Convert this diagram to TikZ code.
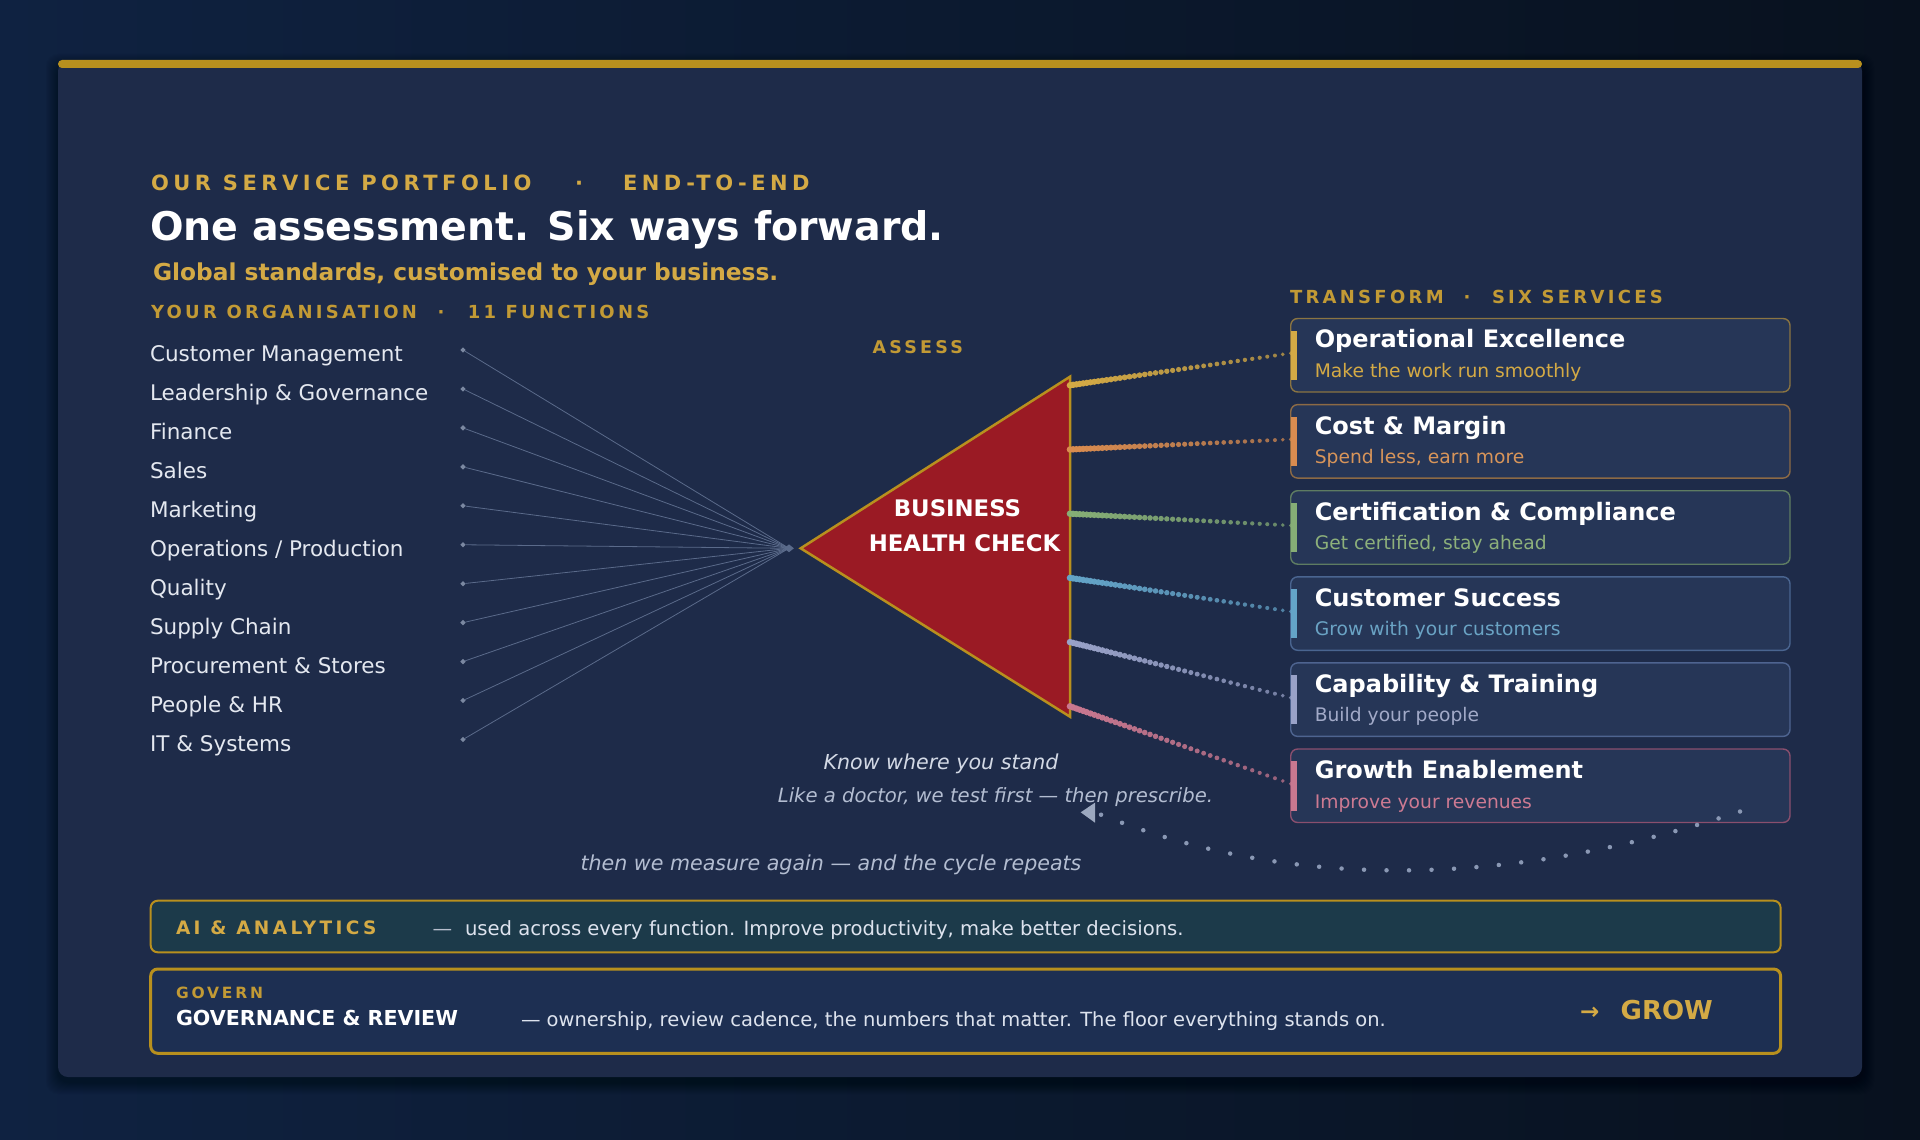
\documentclass[tikz,border=0pt]{standalone}
\usepackage{fontspec}
\setmainfont{DejaVu Sans}[BoldFont={DejaVu Sans Bold},ItalicFont={DejaVu Sans Oblique}]
\newfontfamily\lsA{DejaVu Sans Bold}[LetterSpace=21.5]
\newfontfamily\lsB{DejaVu Sans Bold}[LetterSpace=18.2]
\usetikzlibrary{calc,shapes.geometric}
\newcommand{\fsz}[1]{\fontsize{#1}{#1}\selectfont}
\definecolor{bgL}{HTML}{0F2241}
\definecolor{bgR}{HTML}{08111E}
\definecolor{card}{HTML}{1E2B49}
\definecolor{goldbar}{HTML}{B8901E}
\definecolor{goldtxt}{HTML}{D4AA45}
\definecolor{golddim}{HTML}{C29A35}
\definecolor{listtxt}{HTML}{E4E8F0}
\definecolor{fan}{HTML}{5A6A8A}
\definecolor{boxfill}{HTML}{263657}
\definecolor{tri}{HTML}{9A1A24}
\definecolor{c1}{HTML}{D4AA45}\definecolor{c1border}{HTML}{8A7442}\definecolor{c1sub}{HTML}{D4AA45}
\definecolor{c2}{HTML}{D98C50}\definecolor{c2border}{HTML}{8C6A45}\definecolor{c2sub}{HTML}{D8955A}
\definecolor{c3}{HTML}{86AE76}\definecolor{c3border}{HTML}{5E7C62}\definecolor{c3sub}{HTML}{8DB07B}
\definecolor{c4}{HTML}{64A4C8}\definecolor{c4border}{HTML}{4A6590}\definecolor{c4sub}{HTML}{6AA3C4}
\definecolor{c5}{HTML}{99A2C8}\definecolor{c5border}{HTML}{4E6490}\definecolor{c5sub}{HTML}{A2AAC8}
\definecolor{c6}{HTML}{C97890}\definecolor{c6border}{HTML}{8A4F6E}\definecolor{c6sub}{HTML}{CD7A92}
\definecolor{italA}{HTML}{D3D9E5}
\definecolor{italB}{HTML}{B3BDD1}
\definecolor{loopc}{HTML}{8A98B4}
\definecolor{aifill}{HTML}{1C3A4A}
\definecolor{govfill}{HTML}{1D2F52}
\definecolor{bodytxt}{HTML}{DDE3EE}
\newcommand{\svc}[5]{%
  \node[svcbox, draw=#5border, anchor=north west] (s#1) at (1290.7,#2) {};
  \fill[#5] ($(s#1.north west)+(0,12)$) rectangle ($(s#1.south west)+(6,-12)$);
  \node[txt, font=\bfseries\fsz{24}, text=white] (s#1t) at ($(s#1.north west)+(24.1,29.4)$) {#3};
  \node[txt, font=\fsz{18.7}, text=#5sub] (s#1s) at ($(s#1.north west)+(24.1,59)$) {#4};
}
\begin{document}
\begin{tikzpicture}[x=1pt,y=-1pt,
  txt/.style={inner sep=0pt, outer sep=0pt, anchor=base west},
  ctxt/.style={inner sep=0pt, outer sep=0pt, anchor=base},
  svcbox/.style={rectangle, rounded corners=7pt, fill=boxfill, line width=1.4pt,
    minimum width=499.3pt, minimum height=73.5pt, inner sep=0pt, outer sep=0pt},
  fanline/.style={draw=fan, line width=0.8pt},
  fdot/.style={diamond, fill=fan!80!white, inner sep=0pt, minimum size=5.5pt},
  loopdots/.style={draw=loopc, line width=4.5pt, line cap=round, dash pattern=on 0pt off 22.5pt},
]
\useasboundingbox (0,0) rectangle (1920,1140);
% background
\shade[left color=bgL, right color=bgR] (0,0) rectangle (1920,1140);
% card shadow
\foreach \s in {1,...,12}
  \fill[black, opacity=0.03, rounded corners=12pt] ({58-\s},{61-\s+5}) rectangle ({1862+\s},{1077+\s+5});
% card
\fill[card, rounded corners=10pt] (58,61) rectangle (1862,1077);
\fill[goldbar, rounded corners=4pt] (58,60) rectangle (1862,68);

% header
\node[txt, font=\lsA\fsz{21}, text=goldtxt] (h1) at (151,190) {OUR SERVICE PORTFOLIO};
\node[ctxt, font=\bfseries\fsz{21}, text=goldtxt] (h1d) at (579,190) {·};
\node[txt, font=\lsA\fsz{21}, text=goldtxt] (h1b) at (623,190) {END-TO-END};
\node[txt, font=\bfseries\fsz{39.5}, text=white] (title) at (150,240) {One assessment. Six ways forward.};
\node[txt, font=\bfseries\fsz{23.3}, text=goldtxt] (sub) at (153,280) {Global standards, customised to your business.};

% left section
\node[txt, font=\lsB\fsz{18}, text=golddim] (orgl) at (151,318) {YOUR ORGANISATION};
\node[ctxt, font=\bfseries\fsz{18}, text=golddim] (orgd) at (441,318) {·};
\node[txt, font=\lsB\fsz{18}, text=golddim] (orgr) at (467.8,318) {11 FUNCTIONS};

\coordinate (hub) at (789,548.3);
\foreach \n [count=\i from 0] in {Customer Management, Leadership \& Governance, Finance, Sales, Marketing, Operations / Production, Quality, Supply Chain, Procurement \& Stores, People \& HR, IT \& Systems}{
  \node[txt, font=\fsz{21.5}, text=listtxt] (f\i) at (150,{361.7+38.95*\i}) {\n};
  \node[fdot] (d\i) at (463,{350+38.95*\i}) {};
  \draw[fanline] (d\i) -- (hub);
}
\node[diamond, fill=fan, inner sep=0pt, minimum width=10pt, minimum height=8pt] (hubm) at (hub) {};

% assess
\node[txt, font=\lsB\fsz{17.5}, text=golddim] (assess) at (872.7,353.3) {ASSESS};
\coordinate (triL) at (800.7,548.3);
\coordinate (triT) at (1070,376.7);
\coordinate (triB) at (1070,716.7);
\filldraw[fill=tri, draw=goldbar, line width=2.5pt, line join=miter] (triL) -- (triT) -- (triB) -- cycle;
\node[ctxt, font=\bfseries\fsz{22.8}, text=white] (bh1) at (957.5,516.7) {BUSINESS};
\node[ctxt, font=\bfseries\fsz{22.8}, text=white] (bh2) at (964.5,551.7) {HEALTH CHECK};

% transform
\node[txt, font=\lsB\fsz{18}, text=golddim] (trl) at (1290,303.3) {TRANSFORM};
\node[ctxt, font=\bfseries\fsz{18}, text=golddim] (trd) at (1467,303.3) {·};
\node[txt, font=\lsB\fsz{18}, text=golddim] (trr) at (1492,303.3) {SIX SERVICES};

\svc{1}{318.5}{Operational Excellence}{Make the work run smoothly}{c1}
\svc{2}{404.6}{Cost \& Margin}{Spend less, earn more}{c2}
\svc{3}{490.7}{Certification \& Compliance}{Get certified, stay ahead}{c3}
\svc{4}{576.8}{Customer Success}{Grow with your customers}{c4}
\svc{5}{662.9}{Capability \& Training}{Build your people}{c5}
\svc{6}{749.0}{Growth Enablement}{Improve your revenues}{c6}

% beaded connectors
\foreach \i in {1,...,6}{
  \coordinate (t\i) at (1070,{385.3+64.2*(\i-1)});
  \coordinate (e\i) at ($(s\i.west)+(0,-2)$);
  \foreach \k in {0,...,40}{
    \pgfmathsetmacro{\bu}{\k/40}
    \pgfmathsetmacro{\bt}{\bu*(0.55+0.45*\bu)}
    \pgfmathsetmacro{\brad}{3.3-1.4*\bt}
    \pgfmathsetmacro{\bop}{1-0.3*\bt}
    \fill[c\i, opacity=\bop] ($(t\i)!\bt!(e\i)$) circle[radius=\brad pt];
  }
}

% italic notes
\node[ctxt, font=\itshape\fsz{20.6}, text=italA] (know) at (941,769.3) {Know where you stand};
\node[ctxt, font=\itshape\fsz{19.6}, text=italB] (doctor) at (995.5,802.5) {Like a doctor, we test first — then prescribe.};
\node[ctxt, font=\itshape\fsz{20.6}, text=italB] (again) at (831,870) {then we measure again — and the cycle repeats};

% loop
\coordinate (lpA) at (1740,811.5);
\coordinate (lpB) at (1098,813.5);
\draw[loopdots] (lpA) .. controls (1505.7,889.3) and (1286,890) .. (lpB);
\coordinate (ahT) at (1080.7,812.3);
\coordinate (ahU) at (1095,802.7);
\coordinate (ahD) at (1095,822.7);
\fill[loopc!85!white] (ahT) -- (ahU) -- (ahD) -- cycle;

% AI bar
\node[rectangle, rounded corners=7pt, fill=aifill, draw=goldbar, line width=2pt, anchor=north west,
  minimum width=1629.9pt, minimum height=51.6pt, inner sep=0pt, outer sep=0pt] (ai) at (150.7,900.7) {};
\node[txt, font=\lsB\fsz{18.5}, text=goldtxt] (ait) at (176,934.3) {AI \& ANALYTICS};
\node[txt, font=\fsz{19.6}, text=bodytxt!80!card] (aid) at (432.7,935) {—};
\node[txt, font=\fsz{19.6}, text=bodytxt] (aib) at (465,935) {used across every function. Improve productivity, make better decisions.};

% governance bar
\node[rectangle, rounded corners=7pt, fill=govfill, draw=goldbar, line width=3pt, anchor=north west,
  minimum width=1629.9pt, minimum height=84.3pt, inner sep=0pt, outer sep=0pt] (gov) at (150.7,969) {};
\node[txt, font=\lsB\fsz{15.5}, text=golddim] (govk) at (176,998.3) {GOVERN};
\node[txt, font=\bfseries\fsz{20.6}, text=white] (govt) at (176,1025.7) {GOVERNANCE \& REVIEW};
\node[txt, font=\fsz{19.5}, text=bodytxt] (govb) at (521,1026) {— ownership, review cadence, the numbers that matter. The floor everything stands on.};
\node[txt, font=\bfseries\fsz{23}, text=goldtxt] (arr) at (1580,1019) {→};
\node[txt, font=\bfseries\fsz{26}, text=goldtxt] (grow) at (1620.7,1019) {GROW};
\end{tikzpicture}
\end{document}
